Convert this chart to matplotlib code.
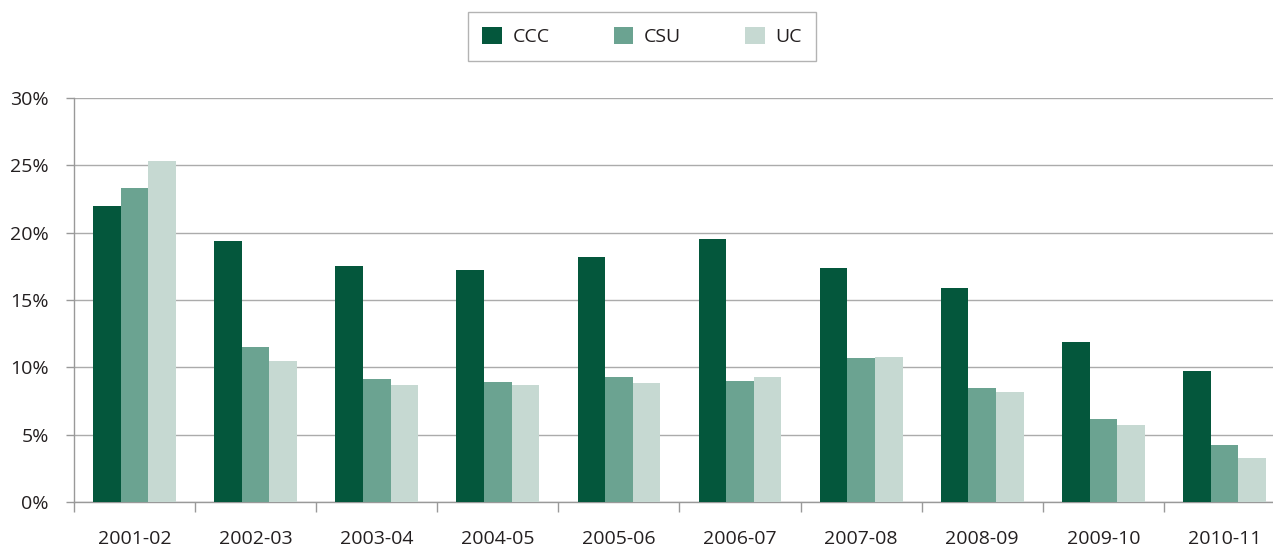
import matplotlib.pyplot as plt
import numpy as np

years = ['2001-02', '2002-03', '2003-04', '2004-05', '2005-06',
         '2006-07', '2007-08', '2008-09', '2009-10', '2010-11']
ccc = [22.0, 19.4, 17.5, 17.2, 18.2, 19.5, 17.4, 15.9, 11.9, 9.7]
csu = [23.3, 11.5, 9.1, 8.9, 9.3, 9.0, 10.7, 8.5, 6.2, 4.2]
uc = [25.3, 10.5, 8.7, 8.7, 8.8, 9.3, 10.8, 8.2, 5.7, 3.3]
yticks = [0, 5, 10, 15, 20, 25, 30]

plt.rcParams['font.family'] = ['Open Sans', 'DejaVu Sans']

fig = plt.figure(figsize=(12.73, 5.47), dpi=100)
ax = fig.add_axes([74 / 1273, 45 / 547, 1211 / 1273, 404 / 547])

x = np.arange(len(years))
w = 0.228
ax.bar(x - w, ccc, w, color='#04573C', label='CCC', zorder=3)
ax.bar(x, csu, w, color='#6BA391', label='CSU', zorder=3)
ax.bar(x + w, uc, w, color='#C6D9D2', label='UC', zorder=3)

ax.set_xlim(-0.5, len(years) - 0.5)
ax.set_ylim(0, 30)
ax.set_yticks(yticks)
ax.set_yticklabels([f'{v}%' for v in yticks])
ax.yaxis.grid(True, color='#ABABAB', linewidth=1, zorder=0)

ax.set_xticks(x)
ax.set_xticklabels(years)
ax.set_xticks(np.arange(-0.5, len(years) + 0.5, 1), minor=True)
ax.tick_params(axis='x', which='major', length=0, pad=20, labelsize=14, colors='#231F20')
ax.tick_params(axis='x', which='minor', length=7, width=1, color='#999999')
ax.tick_params(axis='y', length=6, width=1, color='#999999', pad=12, labelsize=14, labelcolor='#231F20')

for s in ['top', 'right']:
    ax.spines[s].set_visible(False)
for s in ['left', 'bottom']:
    ax.spines[s].set_color('#999999')
    ax.spines[s].set_linewidth(1)

leg = fig.legend(loc='upper center', bbox_to_anchor=(642 / 1273, 1 - 12 / 547), ncol=3,
                 frameon=True, fancybox=False, fontsize=14, handlelength=1.0, handleheight=1.0,
                 columnspacing=3.3, handletextpad=0.55, borderpad=0.75, borderaxespad=0,
                 labelcolor='#231F20')
leg.get_frame().set_edgecolor('#A0A0A0')
leg.get_frame().set_linewidth(1)

fig.savefig('out.png', dpi=100)
